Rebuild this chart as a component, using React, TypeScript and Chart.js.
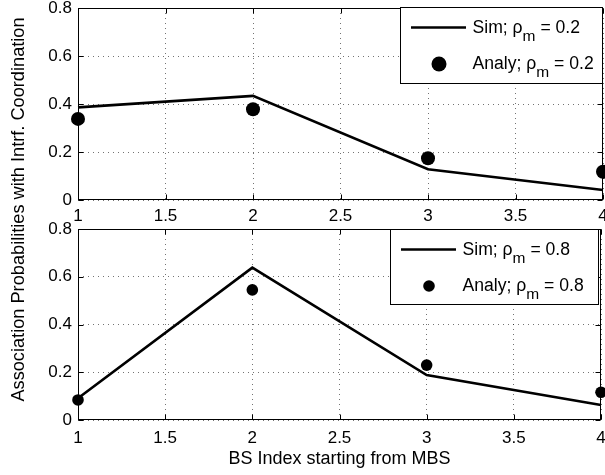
import React, { useEffect, useRef } from "react";
import { Chart, registerables } from "chart.js";

Chart.register(...registerables);

// ---- data ----
const bsIndex = [1, 2, 3, 4];
const xTickValues = [1, 1.5, 2, 2.5, 3, 3.5, 4];
const yTickValues = [0, 0.2, 0.4, 0.6, 0.8];
const simTop = [0.386, 0.434, 0.128, 0.042];
const analyTop = [0.338, 0.378, 0.174, 0.118];
const simBottom = [0.091, 0.638, 0.188, 0.063];
const analyBottom = [0.084, 0.545, 0.23, 0.116];
const rhoTop = "0.2";
const rhoBottom = "0.8";
const xTitle = "BS Index starting from MBS";
const yTitle = "Association Probabilities with Intrf. Coordination";

const FONT = "'Liberation Sans', Arial, Helvetica, sans-serif";
const W = 605;
const H = 475;
const AREA_LEFT = 78;

type Panel = {
  areaTop: number;
  areaBottom: number;
  areaRight: number;
  markerR: number;
  xTickPad: number;
  xAxisH: number;
  legend: { l: number; t: number; r: number; b: number; mr: number };
  showXTitle: boolean;
  showYTitle: boolean;
};

const topPanel: Panel = {
  areaTop: 8,
  areaBottom: 200,
  areaRight: 603,
  markerR: 7,
  xTickPad: 6,
  xAxisH: 30,
  legend: { l: 400, t: 7, r: 603, b: 84, mr: 7.5 },
  showXTitle: false,
  showYTitle: false,
};

const bottomPanel: Panel = {
  areaTop: 229,
  areaBottom: 420,
  areaRight: 601,
  markerR: 5.8,
  xTickPad: 8,
  xAxisH: 55,
  legend: { l: 390, t: 229, r: 599, b: 305, mr: 5.8 },
  showXTitle: true,
  showYTitle: true,
};

function drawLabel(ctx: CanvasRenderingContext2D, x: number, y: number, head: string, rho: string) {
  ctx.font = `17.6px ${FONT}`;
  ctx.textAlign = "left";
  ctx.textBaseline = "alphabetic";
  ctx.fillStyle = "#000";
  const p1 = head + "; \u03c1";
  ctx.fillText(p1, x, y);
  let cx = x + ctx.measureText(p1).width;
  ctx.font = `15.5px ${FONT}`;
  ctx.fillText("m", cx, y + 8);
  cx += ctx.measureText("m").width;
  ctx.font = `17.6px ${FONT}`;
  ctx.fillText(" = " + rho, cx, y);
}

function makePlugins(panel: Panel, rho: string) {
  return [
    {
      id: "frame",
      beforeDatasetsDraw(chart: any) {
        const { ctx, chartArea: a, scales } = chart;
        ctx.save();
        ctx.strokeStyle = "#000";
        ctx.lineWidth = 1;
        const L = Math.round(a.left) + 0.5;
        const R = Math.round(a.right) - 0.5;
        const T = Math.round(a.top) + 0.5;
        const B = Math.round(a.bottom) - 0.5;
        ctx.strokeRect(L, T, R - L, B - T);
        ctx.beginPath();
        const tl = 5;
        xTickValues.forEach((v) => {
          const px = Math.round(scales.x.getPixelForValue(v)) + 0.5;
          ctx.moveTo(px, B);
          ctx.lineTo(px, B - tl);
          ctx.moveTo(px, T);
          ctx.lineTo(px, T + tl);
        });
        yTickValues.forEach((v) => {
          const py = Math.round(scales.y.getPixelForValue(v)) + 0.5;
          ctx.moveTo(L, py);
          ctx.lineTo(L + tl, py);
          ctx.moveTo(R, py);
          ctx.lineTo(R - tl, py);
        });
        ctx.stroke();
        ctx.restore();
      },
    },
    {
      id: "mlegend",
      afterDraw(chart: any) {
        const { ctx } = chart;
        const g = panel.legend;
        ctx.save();
        ctx.fillStyle = "#fff";
        ctx.fillRect(g.l, g.t, g.r - g.l, g.b - g.t);
        ctx.strokeStyle = "#000";
        ctx.lineWidth = 1;
        ctx.strokeRect(g.l + 0.5, g.t + 0.5, g.r - g.l - 1, g.b - g.t - 1);
        // line sample
        ctx.lineWidth = 2.5;
        ctx.beginPath();
        ctx.moveTo(g.l + 11, g.t + 20.5);
        ctx.lineTo(g.l + 66, g.t + 20.5);
        ctx.stroke();
        drawLabel(ctx, g.l + 72.5, g.t + 25.5, "Sim", rho);
        // marker
        ctx.beginPath();
        ctx.fillStyle = "#000";
        ctx.arc(g.l + 39, g.t + 57, g.mr, 0, Math.PI * 2);
        ctx.fill();
        drawLabel(ctx, g.l + 72.5, g.t + 61.5, "Analy", rho);
        if (panel.showYTitle) {
          ctx.save();
          ctx.translate(19, 209.5);
          ctx.rotate(-Math.PI / 2);
          ctx.font = `18.2px ${FONT}`;
          ctx.textAlign = "center";
          ctx.textBaseline = "middle";
          ctx.fillStyle = "#000";
          ctx.fillText(yTitle, 0, 0);
          ctx.restore();
        }
        ctx.restore();
      },
    },
  ];
}

function makeConfig(sim: number[], analy: number[], rho: string, panel: Panel): any {
  const pts = (ys: number[]) => bsIndex.map((x, i) => ({ x, y: ys[i] }));
  return {
    type: "scatter",
    data: {
      datasets: [
        {
          label: "Sim",
          data: pts(sim),
          showLine: true,
          borderColor: "#000",
          borderWidth: 2.6,
          pointRadius: 0,
          clip: false,
        },
        {
          label: "Analy",
          data: pts(analy),
          showLine: false,
          pointRadius: panel.markerR,
          pointStyle: "circle",
          backgroundColor: "#000",
          borderColor: "#000",
          borderWidth: 0,
          clip: false,
        },
      ],
    },
    options: {
      animation: false,
      responsive: false,
      devicePixelRatio: 1,
      events: [],
      layout: {
        autoPadding: false,
        padding: {
          left: 0,
          top: panel.areaTop,
          right: W - panel.areaRight,
          bottom: H - panel.areaBottom - panel.xAxisH,
        },
      },
      plugins: { legend: { display: false }, tooltip: { enabled: false } },
      scales: {
        x: {
          type: "linear",
          min: 1,
          max: 4,
          afterBuildTicks: (s: any) => {
            s.ticks = xTickValues.map((v) => ({ value: v }));
          },
          afterFit: (s: any) => {
            s.height = panel.xAxisH;
            s.paddingLeft = 0;
            s.paddingRight = 0;
          },
          ticks: {
            autoSkip: false,
            maxRotation: 0,
            padding: panel.xTickPad,
            color: "#000",
            font: { family: FONT, size: 17 },
            callback: (v: any) => String(v),
          },
          grid: { color: "rgba(0,0,0,0.55)", lineWidth: 1, drawTicks: false },
          border: { display: false, dash: [1, 4] },
          title: {
            display: panel.showXTitle,
            text: xTitle,
            color: "#000",
            font: { family: FONT, size: 18 },
            padding: { top: 0, bottom: 5 },
          },
        },
        y: {
          type: "linear",
          min: 0,
          max: 0.8,
          afterBuildTicks: (s: any) => {
            s.ticks = yTickValues.map((v) => ({ value: v }));
          },
          afterFit: (s: any) => {
            s.width = AREA_LEFT;
            s.paddingTop = 0;
            s.paddingBottom = 0;
          },
          ticks: {
            padding: 6,
            color: "#000",
            font: { family: FONT, size: 17 },
            callback: (v: any) => String(v),
          },
          grid: { color: "rgba(0,0,0,0.55)", lineWidth: 1, drawTicks: false },
          border: { display: false, dash: [1, 4] },
        },
      },
    },
    plugins: makePlugins(panel, rho),
  };
}

function PanelChart(props: { sim: number[]; analy: number[]; rho: string; panel: Panel }) {
  const ref = useRef<HTMLCanvasElement | null>(null);
  useEffect(() => {
    if (!ref.current) return;
    const chart = new Chart(ref.current, makeConfig(props.sim, props.analy, props.rho, props.panel));
    return () => chart.destroy();
  }, []);
  return (
    <canvas
      ref={ref}
      width={W}
      height={H}
      style={{ position: "fixed", left: 0, top: 0, width: W, height: H }}
    />
  );
}

export default function App() {
  return (
    <div style={{ position: "fixed", left: 0, top: 0, width: W, height: H, background: "#fff" }}>
      <PanelChart sim={simTop} analy={analyTop} rho={rhoTop} panel={topPanel} />
      <PanelChart sim={simBottom} analy={analyBottom} rho={rhoBottom} panel={bottomPanel} />
    </div>
  );
}
